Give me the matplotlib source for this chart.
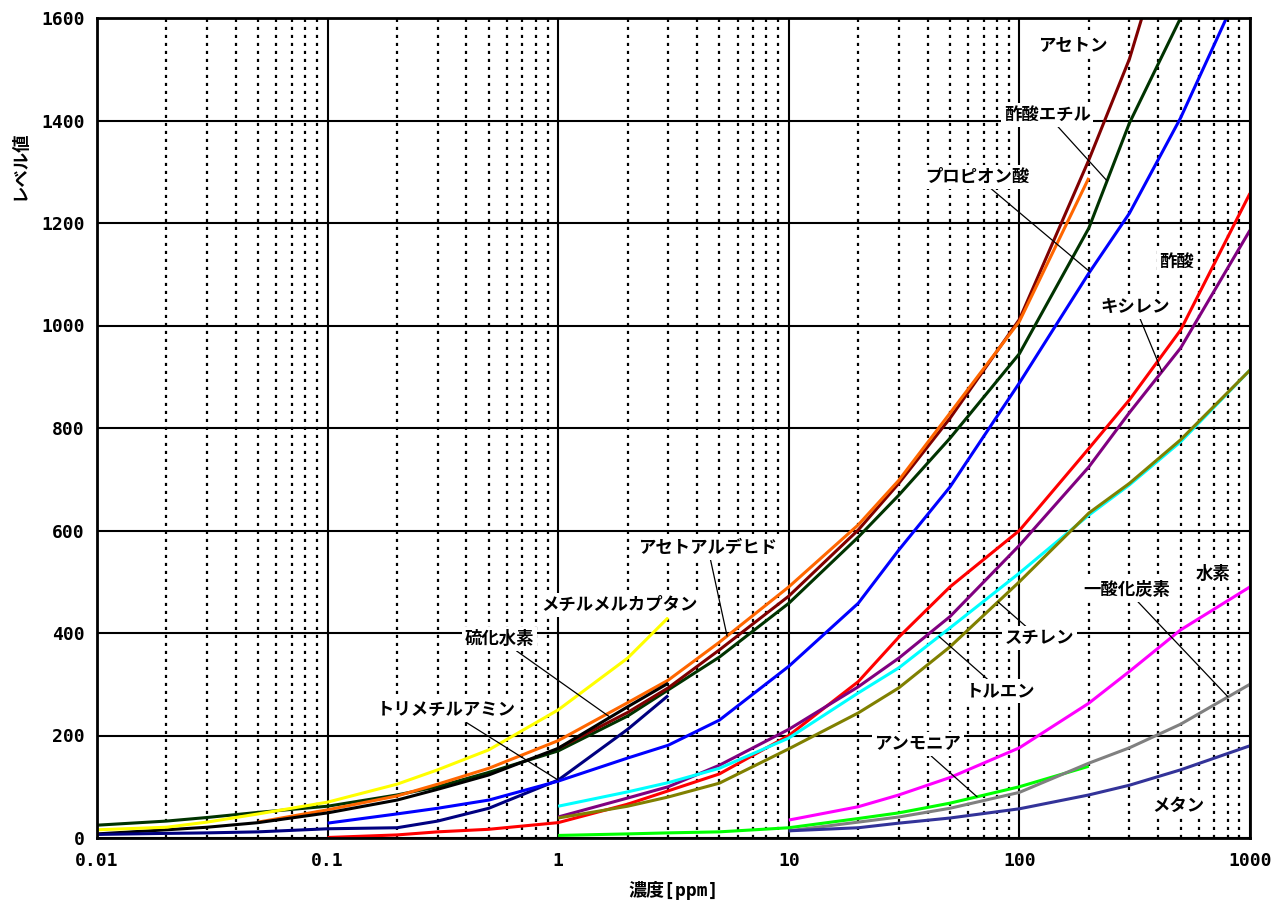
import numpy as np
import matplotlib
matplotlib.use("Agg")
import matplotlib.pyplot as plt

# concentration [ppm] / level value
acetone_c = [1, 2, 3, 5, 10, 20, 30, 50, 100, 200, 300, 500]
acetone_v = [175, 245, 293, 367, 472, 601, 692, 819, 1012, 1323, 1520, 1850]

ethyl_acetate_c = [0.01, 0.02, 0.03, 0.05, 0.1, 0.2, 0.3, 0.5, 1, 2, 3, 5, 10, 20, 30, 50, 100, 200, 300, 500, 1000]
ethyl_acetate_v = [25, 33, 40, 50, 62, 84, 100, 128, 170, 238, 289, 353, 458, 587, 669, 780, 945, 1190, 1395, 1600, 1950]

acetaldehyde_c = [0.05, 0.1, 0.2, 0.3, 0.5, 1, 2, 3, 5, 10, 20, 30, 50, 100, 200]
acetaldehyde_v = [31, 55, 82, 105, 136, 190, 264, 308, 382, 490, 611, 698, 829, 1008, 1288]

h2s_c = [0.01, 0.02, 0.03, 0.05, 0.1, 0.2, 0.3, 0.5, 1, 2, 3]
h2s_v = [8, 16, 21, 30, 49, 74, 95, 123, 175, 256, 302]

mercaptan_c = [0.01, 0.02, 0.03, 0.05, 0.1, 0.2, 0.3, 0.5, 1, 2, 3]
mercaptan_v = [16, 21, 31, 47, 70, 105, 133, 172, 250, 351, 430]

tma_c = [0.01, 0.02, 0.03, 0.05, 0.1, 0.2, 0.3, 0.5, 1, 2, 3]
tma_v = [7, 9, 10, 12, 18, 20, 33, 58, 113, 212, 278]

propionic_c = [0.1, 0.2, 0.3, 0.5, 1, 2, 3, 5, 10, 20, 30, 50, 100, 200, 300, 500, 1000]
propionic_v = [29, 47, 58, 74, 111, 156, 181, 230, 335, 458, 562, 685, 888, 1102, 1219, 1405, 1700]

acetic_c = [0.1, 0.2, 0.3, 0.5, 1, 2, 3, 5, 10, 20, 30, 50, 100, 200, 300, 500, 1000]
acetic_v = [1, 6, 12, 17, 30, 66, 92, 125, 200, 305, 392, 490, 600, 760, 855, 991, 1258]

xylene_c = [1, 2, 3, 5, 10, 20, 30, 50, 100, 200, 300, 500, 1000]
xylene_v = [41, 78, 100, 142, 212, 295, 351, 432, 571, 724, 830, 956, 1186]

toluene_c = [1, 2, 3, 5, 10, 20, 30, 50, 100, 200, 300, 500, 1000]
toluene_v = [62, 90, 108, 136, 195, 283, 332, 410, 517, 630, 689, 773, 913]

styrene_c = [1, 2, 3, 5, 10, 20, 30, 50, 100, 200, 300, 500, 1000]
styrene_v = [39, 62, 80, 107, 174, 244, 293, 373, 500, 634, 692, 777, 913]

ammonia_c = [1, 2, 3, 5, 10, 20, 30, 50, 100, 200]
ammonia_v = [5, 8, 10, 12, 20, 38, 49, 68, 100, 140]

hydrogen_c = [10, 20, 30, 50, 100, 200, 300, 500, 1000]
hydrogen_v = [35, 61, 84, 118, 176, 263, 325, 406, 490]

co_c = [10, 20, 30, 50, 100, 200, 300, 500, 1000]
co_v = [14, 31, 41, 58, 89, 146, 176, 222, 300]

methane_c = [10, 20, 30, 50, 100, 200, 300, 500, 1000]
methane_v = [14, 20, 29, 39, 57, 84, 103, 133, 180]

series = {
    "酢酸エチル": (ethyl_acetate_c, ethyl_acetate_v, "#003300"),
    "アセトン": (acetone_c, acetone_v, "#800000"),
    "アセトアルデヒド": (acetaldehyde_c, acetaldehyde_v, "#FF6600"),
    "硫化水素": (h2s_c, h2s_v, "#000000"),
    "メチルメルカプタン": (mercaptan_c, mercaptan_v, "#FFFF00"),
    "トリメチルアミン": (tma_c, tma_v, "#000080"),
    "プロピオン酸": (propionic_c, propionic_v, "#0000FF"),
    "酢酸": (acetic_c, acetic_v, "#FF0000"),
    "キシレン": (xylene_c, xylene_v, "#800080"),
    "トルエン": (toluene_c, toluene_v, "#00FFFF"),
    "スチレン": (styrene_c, styrene_v, "#808000"),
    "アンモニア": (ammonia_c, ammonia_v, "#00FF00"),
    "水素": (hydrogen_c, hydrogen_v, "#FF00FF"),
    "一酸化炭素": (co_c, co_v, "#808080"),
    "メタン": (methane_c, methane_v, "#333399"),
}

# label placement: (name, text x [ppm], text y, pointer concentration or None)
labels = [
    ("アセトン", 171, 1545, None),
    ("酢酸エチル", 132, 1411, 240),
    ("プロピオン酸", 65.5, 1290, 202),
    ("酢酸", 482, 1124, None),
    ("キシレン", 318, 1036, 415),
    ("一酸化炭素", 292, 484, 803),
    ("水素", 690, 515, None),
    ("スチレン", 122, 390, 80.7),
    ("トルエン", 83, 287, 44.8),
    ("アンモニア", 36.3, 183, 65.5),
    ("メタン", 490, 62, None),
    ("アセトアルデヒド", 4.46, 566, 5.4),
    ("メチルメルカプタン", 1.85, 455, None),
    ("硫化水素", 0.559, 388, 1.68),
    ("トリメチルアミン", 0.327, 250, 1.0),
]

x_ticks = [0.01, 0.1, 1, 10, 100, 1000]
x_tick_labels = ["0.01", "0.1", "1", "10", "100", "1000"]
y_ticks = list(range(0, 1601, 200))

JP = "Noto Sans CJK JP"
MONO = "DejaVu Sans Mono"

fig = plt.figure(figsize=(12.85, 9.11), dpi=100)
ax = fig.add_axes([97 / 1285, 73 / 911, 1153 / 1285, 820 / 911])

for name, (xs, ys, col) in series.items():
    ax.plot(xs, ys, color=col, lw=2.2, zorder=3, solid_capstyle="butt")

ax.set_xscale("log")
ax.set_xlim(0.01, 1000)
ax.set_ylim(0, 1600)

ax.set_xticks(x_ticks)
ax.set_xticklabels(x_tick_labels)
minor = [m * 10.0 ** e for e in range(-2, 3) for m in range(2, 10)]
ax.set_xticks(minor, minor=True)
ax.set_xticklabels([], minor=True)
ax.set_yticks(y_ticks)

ax.tick_params(which="both", length=0)
ax.tick_params(axis="x", pad=10)
ax.tick_params(axis="y", pad=9)
for t in ax.get_xticklabels() + ax.get_yticklabels():
    t.set_fontfamily(MONO)
    t.set_fontsize(13)
    t.set_fontweight("bold")

ax.grid(which="major", color="black", lw=1.5, zorder=1)
ax.grid(which="minor", axis="x", color="black", lw=1.6, ls=(0, (1.4, 2.2)), zorder=1)
ax.set_axisbelow(True)
for sp in ax.spines.values():
    sp.set_linewidth(2)
    sp.set_zorder(5)

ax.set_xlabel("濃度[ppm]", family=[MONO, JP], fontsize=13, fontweight="bold", labelpad=8)
fig.text(20 / 1285, 1 - 165 / 911, "レベル値", family=JP, fontsize=12.5, fontweight="bold",
         rotation=90, ha="center", va="center")


def on_curve(name, c):
    xs, ys, _ = series[name]
    return np.interp(np.log10(c), np.log10(xs), ys)


for name, lx, ly, pc in labels:
    box = dict(fc="white", ec="none", pad=2)
    if pc is None:
        ax.text(lx, ly, name, family=JP, fontsize=12.5, fontweight="bold",
                ha="center", va="center", bbox=box, zorder=4)
    else:
        ax.annotate(name, xy=(pc, on_curve(name, pc)), xytext=(lx, ly),
                    family=JP, fontsize=12.5, fontweight="bold",
                    ha="center", va="center", bbox=box, zorder=4,
                    arrowprops=dict(arrowstyle="-", color="black", lw=0.9,
                                    shrinkA=0, shrinkB=0))

fig.savefig("out.png", dpi=100)
